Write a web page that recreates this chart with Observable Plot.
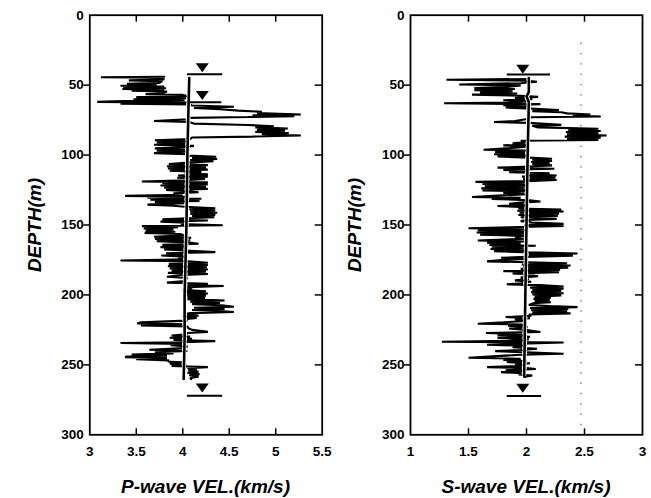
<!DOCTYPE html>
<html>
<head>
<meta charset="utf-8">
<script src="https://cdn.jsdelivr.net/npm/d3@7"></script>
<script src="https://cdn.jsdelivr.net/npm/@observablehq/plot@0.6"></script>
<style>
  body { margin: 0; background: #fff; }
  #wrap { position: relative; width: 651px; height: 498px; overflow: hidden; background: #fff;
          font-family: "Liberation Sans", Arial, Helvetica, sans-serif; color: #000; }
  .panel { position: absolute; top: 0; }
  .xt { position: absolute; width: 240px; height: 22px; line-height: 22px; text-align: center;
        font-weight: bold; font-style: italic; font-size: 19px; white-space: nowrap; }
  .yt { position: absolute; width: 130px; height: 22px; line-height: 22px; text-align: center;
        font-weight: bold; font-style: italic; font-size: 19px; white-space: nowrap; transform: rotate(-90deg); }
</style>
</head>
<body>
<div id="wrap"></div>
<script>
// ---------- DATA ----------
const depthTicks = [0, 50, 100, 150, 200, 250, 300];
const depthInnerTicks = [50, 100, 150, 200, 250];
const pTicks = [3, 3.5, 4, 4.5, 5, 5.5];
const pInnerTicks = [3.5, 4, 4.5, 5];
const sTicks = [1, 1.5, 2, 2.5, 3];
const sInnerTicks = [1.5, 2, 2.5];

// P-wave log: [depth (m), velocity (km/s)]
const pLog = [
 [44.0,3.80],[44.4,3.12],[44.7,3.78],[46.0,3.80],[46.6,3.42],[47.2,3.78],[48.4,3.75],[49.0,3.40],[49.6,3.72],[50.4,3.33],
 [51.0,3.80],[51.6,3.36],[52.2,3.82],[52.8,3.35],[53.4,3.80],[54.0,3.45],[54.6,3.83],[55.8,3.78],[56.4,3.60],[57.0,4.00],
 [57.8,4.05],[58.6,3.50],[59.4,4.04],[60.2,3.47],[60.8,4.02],[61.4,3.35],[62.0,3.08],[62.5,4.05],[63.2,3.33],[63.8,4.08],
 [64.6,4.10],[65.5,4.55],[66.3,4.12],[67.2,4.40],[68.2,4.60],[69.0,4.85],[70.0,4.80],[71.0,5.27],[71.6,4.75],[72.2,5.20],
 [72.8,4.70],[73.4,4.08],[74.5,4.05],[75.6,3.69],[76.4,4.06],[77.5,4.12],[78.5,4.70],[79.4,4.98],[80.2,4.78],[81.0,5.13],
 [81.8,4.80],[82.6,5.10],[83.4,4.78],[84.2,5.14],[85.0,4.85],[86.0,5.27],[86.8,4.75],[87.4,4.10],[88.6,4.08],[89.4,3.70],
 [90.2,4.06],[91.0,3.72],[91.8,4.05],[92.6,3.69],[93.4,4.12],[94.4,4.00],[95.2,3.70],[96.0,4.04],[96.8,3.72],[97.6,4.03],
 [98.6,3.69],[99.4,4.05],[100.4,4.06],[101.2,4.36],[102.0,4.10],[102.8,4.37],[103.6,4.08],[104.4,4.33],[105.4,4.06],[106.4,3.85],
 [107.2,4.27],[108.0,3.83],[108.8,4.25],[109.6,3.84],[110.4,4.27],[111.2,3.86],[112.0,4.20],[113.0,4.02],[113.8,4.27],[114.6,3.95],
 [115.4,4.27],[116.2,3.94],[117.0,4.24],[118.0,4.04],[118.9,3.56],[119.5,4.27],[120.2,3.78],[121.0,4.27],[121.8,3.76],[122.6,4.25],
 [123.4,3.80],[124.2,4.27],[125.0,3.82],[125.8,4.05],[126.6,4.17],[127.4,3.90],[128.4,4.00],[129.2,3.38],[129.8,4.05],[130.5,3.62],
 [131.2,4.20],[132.0,3.65],[132.8,4.18],[133.6,3.70],[134.4,4.02],[135.4,3.62],[136.2,3.90],[137.0,4.02],[138.0,4.35],[138.8,4.07],
 [139.6,4.35],[140.4,4.08],[141.2,4.37],[142.0,4.08],[142.8,4.35],[143.6,4.10],[144.4,4.34],[145.2,4.05],[146.0,3.78],[146.8,4.27],
 [147.6,3.76],[148.4,4.05],[149.4,3.98],[150.2,4.43],[150.8,3.56],[151.6,3.95],[152.4,3.58],[153.2,3.90],[154.0,3.60],[154.8,3.92],
 [155.6,3.59],[156.4,3.97],[157.4,4.02],[158.4,3.69],[159.2,4.09],[160.0,3.70],[160.8,4.08],[161.6,3.72],[162.4,4.05],[163.4,4.17],
 [164.2,3.78],[165.0,4.05],[165.8,3.76],[166.6,4.04],[167.4,3.80],[168.2,4.03],[169.4,4.35],[170.2,3.82],[171.0,4.05],[171.8,3.77],
 [172.6,4.02],[173.6,3.95],[174.6,4.05],[175.4,3.33],[175.9,4.06],[177.0,4.27],[177.8,3.85],[178.6,4.27],[179.4,3.84],[180.2,4.26],
 [181.0,3.86],[181.8,4.27],[182.6,3.88],[183.4,4.25],[184.2,3.84],[185.0,4.27],[185.8,4.00],[187.0,3.83],[187.8,4.05],[188.8,4.04],
 [190.0,4.02],[191.2,3.83],[192.0,4.27],[192.8,4.05],[193.6,4.44],[194.4,4.05],[195.4,4.10],[196.4,4.00],[197.4,4.25],[198.2,4.02],
 [199.0,4.27],[199.8,4.03],[200.6,4.25],[201.4,4.05],[202.2,4.24],[203.0,4.05],[204.0,4.45],[204.8,4.08],[205.8,4.40],[206.6,4.10],
 [207.4,4.42],[208.4,4.55],[209.2,4.12],[210.0,4.45],[210.8,4.10],[211.6,4.40],[212.2,4.55],[213.0,4.08],[214.0,4.00],[214.8,4.17],
 [215.6,4.00],[216.4,4.15],[217.4,4.02],[218.4,4.05],[219.6,3.55],[220.4,3.51],[221.0,4.04],[221.8,3.55],[222.6,4.05],[223.8,4.06],
 [225.0,4.10],[226.4,4.27],[227.2,4.05],[228.2,4.04],[229.0,3.88],[229.8,4.08],[230.6,3.86],[231.4,4.10],[232.2,3.90],[233.0,4.35],
 [233.8,4.00],[234.4,3.33],[235.0,4.00],[236.0,3.87],[236.8,4.05],[238.0,4.02],[239.2,3.64],[240.0,4.05],[241.0,3.70],[241.8,3.90],
 [242.6,3.45],[243.4,3.83],[244.0,3.40],[244.6,3.38],[245.2,3.83],[246.0,3.50],[246.8,3.85],[247.6,3.84],[248.4,4.02],[249.2,3.86],
 [250.0,4.04],[250.8,3.88],[251.6,4.27],[252.4,4.05],[253.2,4.15],[254.0,4.06],[254.8,4.17],[255.6,4.05],[256.6,4.18],[257.4,4.07],
 [258.4,4.17],[259.4,4.08],[260.2,4.09]
];

// S-wave log: [depth (m), velocity (km/s)]
const sLog = [
 [45.6,2.02],[46.2,1.31],[46.8,2.00],[47.6,2.09],[48.6,1.95],[49.6,1.42],[50.2,1.95],[51.2,1.85],[52.0,1.55],[52.8,1.90],
 [53.6,1.55],[54.4,1.88],[55.2,1.60],[56.0,1.92],[56.8,1.53],[57.6,1.95],[58.4,2.10],[59.2,1.90],[60.0,2.05],[60.8,1.80],
 [61.6,2.02],[62.4,1.85],[63.0,1.29],[63.6,2.12],[64.4,1.80],[65.2,2.03],[66.0,1.82],[66.8,2.04],[67.8,2.28],[68.6,2.05],
 [69.4,2.30],[70.2,2.35],[71.0,2.55],[71.6,2.40],[72.4,2.64],[73.0,2.04],[74.0,2.02],[75.6,1.90],[76.4,1.72],[77.0,2.02],
 [78.4,2.30],[79.0,2.05],[80.2,2.10],[81.2,2.62],[82.0,2.36],[82.8,2.64],[83.6,2.34],[84.4,2.62],[85.2,2.35],[86.0,2.69],
 [86.8,2.33],[87.6,2.64],[88.4,2.35],[89.2,2.62],[89.8,1.95],[90.6,2.02],[91.6,1.88],[92.4,2.00],[93.1,1.80],[93.8,2.02],
 [94.8,1.90],[96.2,1.63],[96.8,2.03],[97.8,1.73],[98.6,1.99],[99.4,1.72],[100.2,2.00],[101.0,1.75],[101.8,2.02],[102.6,2.22],
 [103.4,2.05],[104.2,2.22],[105.0,2.04],[105.8,2.20],[106.6,2.05],[107.4,2.22],[108.2,2.02],[109.0,1.75],[109.8,2.24],[110.6,1.80],
 [111.4,2.00],[112.2,1.85],[113.0,2.20],[113.8,2.00],[114.6,2.26],[115.4,1.96],[116.2,2.25],[117.0,1.97],[117.8,2.26],[118.6,2.00],
 [119.2,1.56],[119.8,2.00],[120.6,1.62],[121.4,2.00],[122.2,1.64],[123.0,1.99],[123.8,1.61],[124.6,2.00],[125.3,1.62],[126.0,2.00],
 [127.0,1.80],[128.0,2.01],[129.0,1.75],[130.0,1.53],[130.6,1.95],[131.4,1.70],[132.2,2.01],[133.2,2.12],[134.0,1.95],[134.8,1.85],
 [135.6,2.00],[136.4,1.75],[137.2,2.00],[138.2,1.93],[139.0,2.30],[139.8,1.92],[140.4,2.32],[141.2,1.94],[142.0,2.28],[142.8,1.93],
 [143.6,2.27],[144.4,1.95],[145.6,2.26],[146.4,2.00],[147.2,1.95],[148.2,2.05],[149.2,2.32],[150.0,1.98],[150.6,2.32],[151.4,1.95],
 [152.3,1.50],[153.0,2.00],[153.8,1.58],[154.6,1.99],[155.4,1.57],[156.2,2.00],[157.0,1.60],[157.8,1.98],[158.8,1.90],[159.8,1.99],
 [161.1,1.58],[161.8,1.98],[162.6,1.66],[163.4,1.95],[164.2,1.68],[164.8,2.08],[165.6,1.70],[166.4,1.99],[167.2,1.69],[168.0,2.00],
 [168.8,1.72],[169.6,2.02],[170.4,2.44],[171.2,2.02],[172.0,2.40],[172.8,2.00],[173.4,1.78],[174.2,2.00],[175.0,1.78],[176.0,1.66],
 [176.6,2.00],[177.4,2.35],[178.2,1.96],[179.0,2.38],[179.8,1.97],[180.6,2.36],[181.4,1.95],[182.2,2.29],[183.0,1.80],[183.8,2.28],
 [184.6,1.88],[185.4,2.00],[186.6,2.10],[187.6,1.95],[188.6,2.02],[189.6,1.90],[190.6,2.04],[191.6,1.95],[192.4,1.83],[193.0,2.12],
 [194.0,2.32],[194.8,2.03],[195.6,2.32],[196.4,2.05],[197.2,2.30],[198.0,2.04],[198.8,2.32],[199.6,2.05],[200.4,2.30],[201.2,2.07],
 [202.0,2.21],[202.8,2.06],[203.6,2.20],[204.4,2.07],[205.2,2.21],[206.0,2.06],[207.2,2.02],[208.0,2.20],[208.7,2.44],[209.4,2.03],
 [210.2,2.36],[211.0,2.04],[211.8,2.35],[212.6,2.05],[213.2,2.38],[214.0,2.02],[215.0,2.04],[215.8,1.82],[216.6,2.03],[217.6,1.90],
 [218.6,2.00],[219.6,1.80],[220.6,1.58],[221.2,2.00],[222.0,1.84],[223.0,2.01],[224.0,1.85],[225.0,1.99],[226.5,2.12],[227.2,1.65],
 [228.0,1.98],[229.0,1.75],[230.0,2.03],[230.8,1.75],[231.6,2.02],[232.6,1.95],[233.5,1.27],[234.0,2.32],[234.8,1.95],[235.6,1.66],
 [236.4,2.00],[237.4,1.88],[238.5,2.09],[239.4,1.95],[240.2,1.73],[241.0,2.00],[242.0,2.32],[242.8,1.95],[243.6,1.78],[244.9,1.50],
 [245.6,1.95],[246.4,1.80],[247.2,2.00],[248.0,1.83],[248.8,2.03],[249.8,1.90],[250.6,1.98],[251.6,1.66],[252.2,2.00],[253.0,2.08],
 [253.8,1.82],[254.6,1.98],[255.2,1.78],[256.0,1.97],[256.8,1.93],[257.6,2.05],[258.6,1.98]
];

// smoothed (average) profiles: [depth, velocity]
const pMean = [[45,4.07],[70,4.06],[100,4.05],[150,4.04],[200,4.02],[230,4.02],[260,4.01]];
const sMean = [[45,2.02],[55,2.02],[58,2.00],[62,2.02],[100,2.01],[150,2.00],[200,1.99],[258,1.98]];

// markers: triangle position and bar below it
const pTriDepth = [37.5, 57.5, 266.6];
const pTriVel = [4.21, 4.21, 4.21];
const pBarDepth = [42.3, 62.3, 272.0];
const pBarFrom = [4.05, 4.06, 4.05];
const pBarTo = [4.43, 4.42, 4.43];

const sTriDepth = [38.6, 266.8];
const sTriVel = [1.968, 1.968];
const sBarDepth = [42.4, 272.2];
const sBarFrom = [1.834, 1.834];
const sBarTo = [2.207, 2.13];

const sGuideVel = [2.47];

// ---------- DRAW ----------
const triDown = {
  draw(context, size) {
    const r = Math.sqrt(size / Math.PI);
    const w = r * 1.45, h = r * 2.0;
    context.moveTo(-w, -h / 2);
    context.lineTo(w, -h / 2);
    context.lineTo(0, h / 2);
    context.closePath();
  }
};

const MT = 14.7, MB = 63.7, H = 498;
const FH = H - MT - MB;

function panel({width, ml, mr, domain, ticks, inner, log, mean, triD, triV, barD, barF, barT, guide}) {
  const FW = width - ml - mr;
  const rows = log.map(([d, v]) => ({d, v}));
  const meanRows = mean.map(([d, v]) => ({d, v}));
  const tri = triD.map((d, i) => ({d, v: triV[i]}));
  const bars = barD.map((d, i) => ({d, x1: barF[i], x2: barT[i]}));
  return Plot.plot({
    width, height: H,
    marginLeft: ml, marginRight: mr, marginTop: MT, marginBottom: MB,
    style: {fontFamily: '"Liberation Sans", Arial, Helvetica, sans-serif', fontSize: "13.5px",
            fontWeight: "bold", color: "#000", background: "transparent", overflow: "visible"},
    x: {domain},
    y: {domain: [0, 300], reverse: true},
    marks: [
      guide ? Plot.ruleX(guide, {x: d => d, y1: 20, y2: 300, stroke: "#333", strokeWidth: 1, strokeDasharray: "1.3,9"}) : null,
      Plot.line(rows, {x: "v", y: "d", stroke: "#000", strokeWidth: 2.1, strokeLinejoin: "miter"}),
      Plot.line(meanRows, {x: "v", y: "d", stroke: "#fff", strokeWidth: 4.8, strokeDasharray: "2,3"}),
      Plot.line(meanRows, {x: "v", y: "d", stroke: "#000", strokeWidth: 2.6}),
      Plot.ruleY(bars, {y: "d", x1: "x1", x2: "x2", stroke: "#000", strokeWidth: 2}),
      Plot.dot(tri, {x: "v", y: "d", r: 4.5, symbol: triDown, fill: "#000", stroke: null}),
      Plot.frame({stroke: "#000", strokeWidth: 1.8}),
      Plot.tickX(inner, {x: d => d, insetTop: FH - 6, stroke: "#000", strokeWidth: 1.5}),
      Plot.tickX(inner, {x: d => d, insetBottom: FH - 7, stroke: "#000", strokeWidth: 1.5}),
      Plot.tickY(depthInnerTicks, {y: d => d, insetLeft: FW - 7, stroke: "#000", strokeWidth: 1.5}),
      Plot.axisX(ticks, {anchor: "bottom", tickSize: 0, tickPadding: 12, tickFormat: d => String(d), label: null}),
      Plot.axisY(depthTicks, {anchor: "left", tickSize: 0, tickPadding: 6, tickFormat: d => String(d), label: null}),
      Plot.axisY(depthInnerTicks, {anchor: "left", tickSize: 6, strokeWidth: 1.5, tickFormat: () => "", label: null})
    ]
  });
}

const wrap = document.getElementById("wrap");

const left = panel({width: 330, ml: 89.3, mr: 8.3, domain: [3, 5.5], ticks: pTicks, inner: pInnerTicks,
  log: pLog, mean: pMean, triD: pTriDepth, triV: pTriVel, barD: pBarDepth, barF: pBarFrom, barT: pBarTo});
left.classList.add("panel");
left.style.left = "0px";
wrap.appendChild(left);

const right = panel({width: 331, ml: 90, mr: 9, domain: [1, 3], ticks: sTicks, inner: sInnerTicks,
  log: sLog, mean: sMean, triD: sTriDepth, triV: sTriVel, barD: sBarDepth, barF: sBarFrom, barT: sBarTo, guide: sGuideVel});
right.classList.add("panel");
right.style.left = "320px";
wrap.appendChild(right);

function addText(cls, txt, cx, cy, w) {
  const el = document.createElement("div");
  el.className = cls;
  el.textContent = txt;
  el.style.left = (cx - w / 2) + "px";
  el.style.top = (cy - 11) + "px";
  wrap.appendChild(el);
}
addText("xt", "P-wave VEL.(km/s)", 205.5, 486.7, 240);
addText("xt", "S-wave VEL.(km/s)", 526, 486.7, 240);
addText("yt", "DEPTH(m)", 35, 224.5, 130);
addText("yt", "DEPTH(m)", 355, 224.5, 130);
</script>
</body>
</html>
